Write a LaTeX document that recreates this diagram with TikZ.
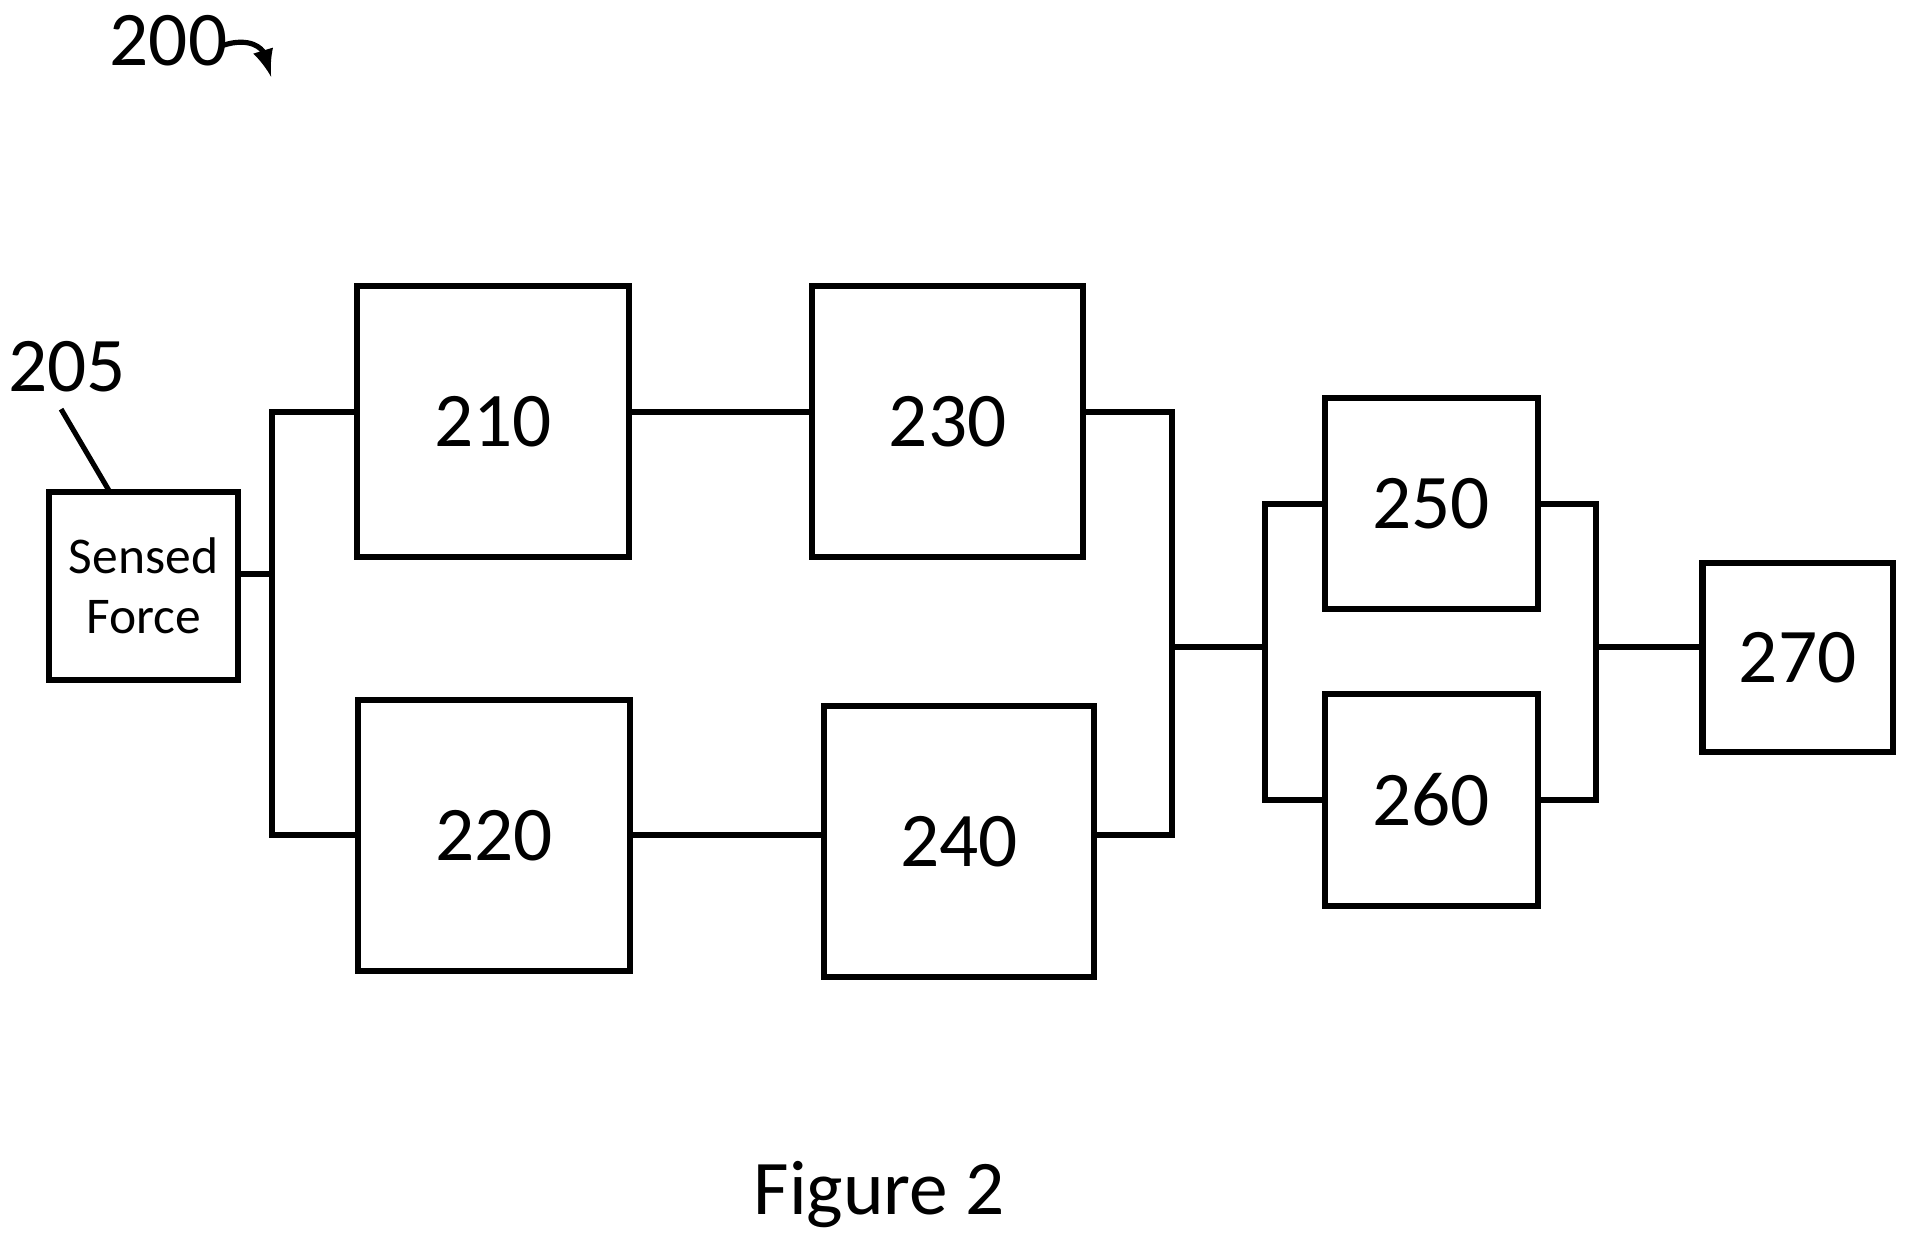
\documentclass[tikz,border=0pt]{standalone}
\usepackage{fontspec}
\setmainfont{Carlito}
\begin{document}
\begin{tikzpicture}[x=0.01cm,y=-0.01cm,
  box/.style={draw,line width=1.4pt,inner sep=0pt},
  ln/.style={line width=1.4pt},
  num/.style={font=\fontsize{18}{18}\selectfont}]
\useasboundingbox (0,0) rectangle (1568,1016);
\node[box,minimum width=155*0.01cm,minimum height=154*0.01cm,align=center,font=\fontsize{12}{14}\selectfont] (sf) at (117.5,480) {Sensed\\Force};
\node[box,num,minimum width=223*0.01cm,minimum height=222*0.01cm] (b210) at (403.5,345) {210};
\node[box,num,minimum width=222*0.01cm,minimum height=222*0.01cm] (b230) at (776,345) {230};
\node[box,num,minimum width=223*0.01cm,minimum height=222*0.01cm] (b220) at (404.5,684) {220};
\node[box,num,minimum width=221*0.01cm,minimum height=222*0.01cm] (b240) at (785.5,689) {240};
\node[box,num,minimum width=174*0.01cm,minimum height=173*0.01cm] (b250) at (1172,412.5) {250};
\node[box,num,minimum width=174*0.01cm,minimum height=174*0.01cm] (b260) at (1172,655) {260};
\node[box,num,minimum width=156*0.01cm,minimum height=155*0.01cm] (b270) at (1472,538.5) {270};
\coordinate (j1) at (223,470);
\coordinate (j2) at (960,530);
\coordinate (j3) at (1036,530);
\coordinate (j4) at (1307,530);
\draw[ln] (sf.east|-j1) -- (j1);
\draw[ln] (b210.west|-0,337) -| (223,684) -- (b220.west|-0,684);
\draw[ln] (b210.east|-0,337) -- (b230.west|-0,337);
\draw[ln] (b220.east|-0,684) -- (b240.west|-0,684);
\draw[ln] (b230.east|-0,337) -| (960,684) -- (b240.east|-0,684);
\draw[ln] (j2) -- (j3);
\draw[ln] (b250.west|-0,413) -| (1036,655) -- (b260.west|-0,655);
\draw[ln] (b250.east|-0,413) -| (1307,655) -- (b260.east|-0,655);
\draw[ln] (j4) -- (b270.west|-j4);
\node[num] (l205) at (55,300) {205};
\coordinate (c205) at (50,335);
\draw[line width=1.2pt] (c205) -- (90,403);
\node[num] (l200) at (138,33) {200};
\coordinate (a200) at (222,63);
\draw[line width=1.2pt,-latex] (183,37) .. controls (205,30) and (215,40) .. (a200);
\node[num] (fig) at (720,978) {Figure 2};
\end{tikzpicture}
\end{document}
